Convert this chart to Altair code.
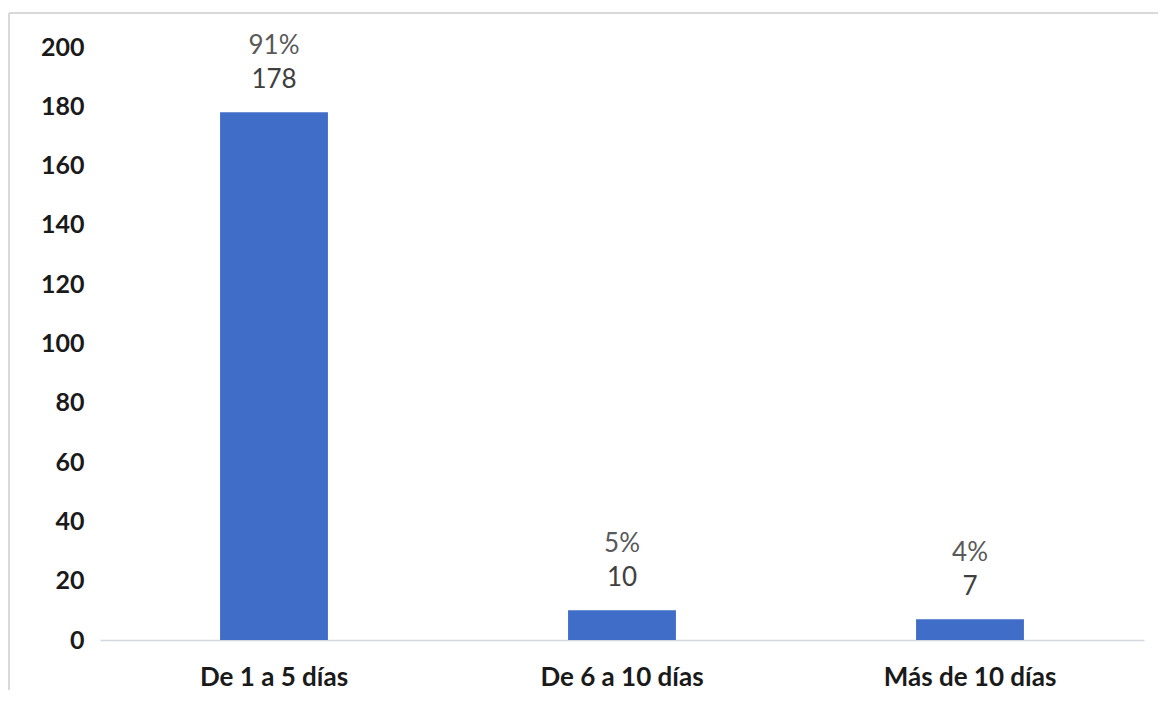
import altair as alt
import pandas as pd

categories = ["De 1 a 5 días", "De 6 a 10 días", "Más de 10 días"]
values = [178, 10, 7]
percents = ["91%", "5%", "4%"]

df = pd.DataFrame({"cat": categories, "val": values, "pct": percents})

FONT = "Lato"

x = alt.X("cat:N", sort=categories, title=None,
          scale=alt.Scale(paddingInner=0.69, paddingOuter=0.345),
          axis=alt.Axis(labelAngle=0, labelFont=FONT, labelFontSize=26, labelFontWeight="bold",
                        labelColor="#1a1a1a", labelPadding=24, ticks=False,
                        domainColor="#d3d7de", domainWidth=1.5))
y = alt.Y("val:Q", title=None,
          scale=alt.Scale(domain=[0, 200], nice=False),
          axis=alt.Axis(values=list(range(0, 201, 20)), grid=False, domain=False, ticks=False,
                        labelFont=FONT, labelFontSize=25, labelFontWeight="bold",
                        labelColor="#1a1a1a", labelPadding=16))

base = alt.Chart(df)

bars = base.mark_bar(color="#3f6dc8").encode(x=x, y=y)

num = base.mark_text(font=FONT, fontSize=26, color="#404040", baseline="middle", dy=-32).encode(
    x=alt.X("cat:N", sort=categories), y="val:Q", text="val:Q")
pct = base.mark_text(font=FONT, fontSize=26, color="#595959", baseline="middle", dy=-66).encode(
    x=alt.X("cat:N", sort=categories), y="val:Q", text="pct:N")

top_border = base.mark_rule(color="#d9d9d9", strokeWidth=2, clip=False).encode(
    x=alt.value(-91), x2=alt.value(1060), y=alt.value(-34))
left_border = base.mark_rule(color="#d9d9d9", strokeWidth=2, clip=False).encode(
    x=alt.value(-91), y=alt.value(-34), y2=alt.value(660))

chart = alt.layer(top_border, left_border, bars, num, pct).properties(
    width=1044, height=593,
    padding={"left": 92, "top": 39, "right": 14, "bottom": 50},
    autosize=alt.AutoSizeParams(type="none"),
    background="white",
).configure_view(stroke=None)

chart.save("out.html", embed_options={"renderer": "svg", "actions": False})
